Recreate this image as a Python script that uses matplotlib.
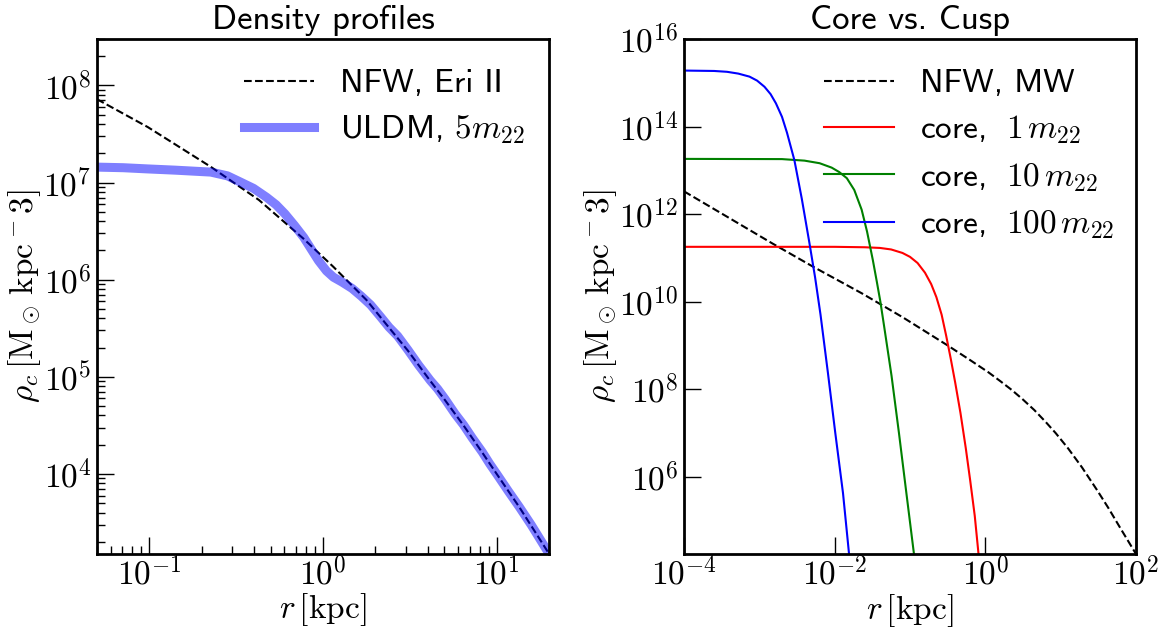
import matplotlib
matplotlib.use("Agg")
import matplotlib.pyplot as plt
from matplotlib.ticker import FixedLocator, FuncFormatter, LogLocator, NullLocator
import numpy as np

plt.rcParams['mathtext.fontset'] = 'cm'
plt.rcParams['axes.linewidth'] = 2.0

# ---- left panel: Eri II ----
r_nfw_eri = [0.05, 0.098, 0.226, 0.428, 0.774, 1.15, 1.78, 2.52, 3.08, 4.14,
             5.04, 6.44, 8.26, 10.0, 13.5, 20.0]
rho_nfw_eri = [7.2e7, 3.72e7, 1.45e7, 6.6e6, 2.63e6, 1.35e6, 6.17e5, 2.88e5,
               1.86e5, 9.1e4, 5.75e4, 3.16e4, 1.66e4, 1.0e4, 4.55e3, 1.51e3]

r_uldm = [0.05, 0.0708, 0.0977, 0.141, 0.226, 0.282, 0.335, 0.398, 0.473,
          0.537, 0.604, 0.684, 0.774, 0.851, 0.942, 1.047, 1.148, 1.288,
          1.469, 1.66, 1.88, 2.14, 2.40, 2.69, 3.09, 3.55, 4.14, 4.57, 5.04,
          5.75, 6.44, 7.24, 8.26, 9.12, 10.0, 11.7, 13.5, 15.8, 20.0]
rho_uldm = [1.44e7, 1.42e7, 1.38e7, 1.34e7, 1.28e7, 1.17e7, 1.01e7, 8.7e6,
            7.05e6, 5.9e6, 4.75e6, 3.63e6, 2.73e6, 2.09e6, 1.57e6, 1.23e6,
            1.06e6, 9.44e5, 8.13e5, 6.76e5, 5.5e5, 4.17e5, 3.24e5, 2.63e5,
            1.88e5, 1.32e5, 9.2e4, 7.5e4, 5.9e4, 4.17e4, 3.2e4, 2.34e4,
            1.68e4, 1.27e4, 1.0e4, 6.6e3, 4.57e3, 2.99e3, 1.51e3]

# ---- right panel: Milky Way ----
r_nfw_mw = [1e-4, 3.72e-4, 1.48e-3, 5.13e-3, 0.0228, 0.080, 0.314, 0.631,
            1.104, 1.585, 2.24, 3.16, 4.47, 6.31, 8.61, 12.6, 19.2, 30.2,
            42.7, 63.1, 100.0]
rho_nfw_mw = [3.3e12, 8.7e11, 2.14e11, 6.3e10, 1.55e10, 4.37e9, 1.0e9, 4.57e8,
              2.4e8, 1.51e8, 9.55e7, 5.75e7, 3.31e7, 1.78e7, 9.8e6, 4.37e6,
              1.62e6, 5.0e5, 1.95e5, 6.3e4, 1.7e4]

r_core1 = [1e-4, 0.01, 0.0251, 0.0398, 0.0562, 0.0794, 0.1, 0.126, 0.158,
           0.191, 0.224, 0.263, 0.302, 0.347, 0.398, 0.468, 0.550, 0.631,
           0.724, 0.811]
rho_core1 = [1.78e11, 1.78e11, 1.74e11, 1.68e11, 1.55e11, 1.29e11, 1.05e11,
             7.6e10, 4.57e10, 2.51e10, 1.26e10, 5.0e9, 1.66e9, 5.0e8, 1.41e8,
             2.82e7, 4.47e6, 7.9e5, 1.26e5, 1.74e4]

r_core10 = [1e-4, 2.0e-3, 3.98e-3, 6.31e-3, 9.12e-3, 0.0115, 0.0145, 0.0182,
            0.0228, 0.0269, 0.0321, 0.0363, 0.0404, 0.0452, 0.0569, 0.0714,
            0.0895, 0.1127]
rho_core10 = [1.82e13, 1.80e13, 1.66e13, 1.45e13, 1.15e13, 9.1e12, 6.6e12,
              3.55e12, 1.26e12, 3.98e11, 8.9e10, 2.82e10, 1.0e10, 2.82e9,
              2.0e8, 9.8e6, 4.2e5, 1.74e4]

r_core100 = [1e-4, 2.51e-4, 3.72e-4, 5.25e-4, 7.41e-4, 9.33e-4, 1.17e-3,
             1.41e-3, 1.66e-3, 2.0e-3, 2.33e-3, 2.92e-3, 3.66e-3, 4.61e-3,
             5.5e-3, 6.49e-3, 8.15e-3, 0.0102, 0.0129, 0.0155]
rho_core100 = [1.9e15, 1.86e15, 1.78e15, 1.62e15, 1.38e15, 1.12e15, 8.1e14,
               5.5e14, 3.39e14, 1.66e14, 7.2e13, 1.7e13, 2.24e12, 2.24e11,
               3.55e10, 5.0e9, 2.29e8, 9.8e6, 4.2e5, 1.74e4]

left_xticks = [1e-1, 1e0, 1e1]
left_yticks = [1e4, 1e5, 1e6, 1e7, 1e8]
right_xticks = [1e-4, 1e-2, 1e0, 1e2]
right_yticks = [1e6, 1e8, 1e10, 1e12, 1e14, 1e16]

sans = 'cmss10'
fs = 24


def pow_fmt(v, pos):
    return r'$10^{%d}$' % int(round(np.log10(v)))


def style_axes(ax, xticks, yticks, minor):
    ax.set_xscale('log')
    ax.set_yscale('log')
    ax.xaxis.set_major_locator(FixedLocator(xticks))
    ax.yaxis.set_major_locator(FixedLocator(yticks))
    ax.xaxis.set_major_formatter(FuncFormatter(pow_fmt))
    ax.yaxis.set_major_formatter(FuncFormatter(pow_fmt))
    if minor:
        ax.xaxis.set_minor_locator(LogLocator(base=10, subs=np.arange(2, 10)))
        ax.yaxis.set_minor_locator(LogLocator(base=10, subs=np.arange(2, 10)))
    else:
        ax.xaxis.set_minor_locator(NullLocator())
        ax.yaxis.set_minor_locator(NullLocator())
    ax.xaxis.set_minor_formatter(FuncFormatter(lambda v, p: ''))
    ax.yaxis.set_minor_formatter(FuncFormatter(lambda v, p: ''))
    ax.tick_params(which='both', direction='in', top=False, right=False,
                   labelsize=fs)
    ax.tick_params(axis='x', pad=2)
    ax.tick_params(axis='y', pad=4)
    ax.tick_params(which='major', length=12, width=1)
    ax.tick_params(which='minor', length=6, width=1)
    ax.set_xlabel(r'$r\,[\mathrm{kpc}]$', fontsize=fs, labelpad=0)
    ax.set_ylabel(r'$\rho_c\,[\mathrm{M}_\odot\,\mathrm{kpc}^-3]$', fontsize=fs,
                  labelpad=0)


fig = plt.figure(figsize=(11.64, 6.34), dpi=100)
ax1 = fig.add_axes([97/1164, 80/634, 452/1164, 515/634])
ax2 = fig.add_axes([684/1164, 80/634, 452/1164, 515/634])

ax1.plot(r_nfw_eri, rho_nfw_eri, 'k--', lw=1.5, label='NFW, Eri II')
ax1.plot(r_uldm, rho_uldm, color='blue', alpha=0.5, lw=6.5,
         label=r'ULDM, $5m_{22}$')
ax1.set_xlim(0.05, 20)
ax1.set_ylim(1.5e3, 3e8)
style_axes(ax1, left_xticks, left_yticks, True)
ax1.set_title('Density profiles', fontsize=25, family=sans, pad=7)
ax1.legend(loc='upper left', frameon=False, prop={'family': sans, 'size': fs},
           handlelength=2.1, handletextpad=0.78, labelspacing=0.45,
           borderpad=0, borderaxespad=0, bbox_to_anchor=(0.325, 0.942))

ax2.plot(r_nfw_mw, rho_nfw_mw, 'k--', lw=1.5, label='NFW, MW')
ax2.plot(r_core1, rho_core1, color='red', lw=1.5, label=r'core, $\;1\,m_{22}$')
ax2.plot(r_core10, rho_core10, color='green', lw=1.5,
         label=r'core, $\;10\,m_{22}$')
ax2.plot(r_core100, rho_core100, color='blue', lw=1.5,
         label=r'core, $\;100\,m_{22}$')
ax2.set_xlim(1e-4, 1e2)
ax2.set_ylim(1.7e4, 1e16)
style_axes(ax2, right_xticks, right_yticks, False)
ax2.set_title('Core vs. Cusp', fontsize=25, family=sans, pad=7)
ax2.legend(loc='upper left', frameon=False, prop={'family': sans, 'size': fs},
           handlelength=2.1, handletextpad=0.78, labelspacing=0.45,
           borderpad=0, borderaxespad=0, bbox_to_anchor=(0.31, 0.942))

fig.savefig('out.png', dpi=100)
